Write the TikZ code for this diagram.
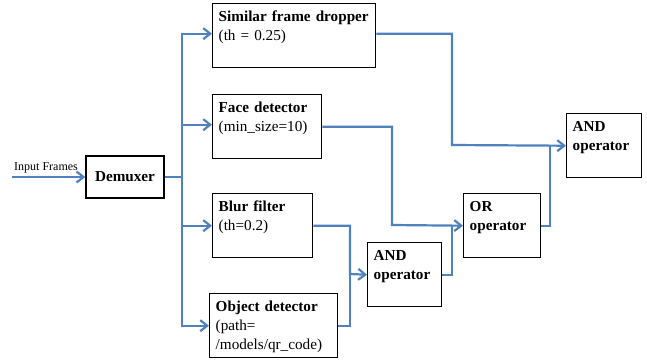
\documentclass[tikz,border=0pt]{standalone}
\usepackage{fontspec}
\setmainfont{Liberation Serif}
\usetikzlibrary{arrows.meta,positioning}
\definecolor{edgeblue}{RGB}{79,129,189}

\begin{document}
\begin{tikzpicture}[x=1pt,y=-1pt]
  \tikzstyle{BlockStyle}=[draw,line width=1.4pt,anchor=north west,align=left,inner xsep=6pt,inner ysep=4pt,text height=13.5pt,text depth=42.5pt,font=\fontsize{15.2}{19}\selectfont]
  \tikzstyle{EdgeStyle}=[draw=edgeblue,line width=2.2pt]
  \tikzstyle{ArrowStyle}=[EdgeStyle,-{Straight Barb[length=7pt,width=11pt]}]
  \useasboundingbox (0,0) rectangle (647,360);

  \node[draw,line width=1.4pt,minimum width=78pt,minimum height=42pt,inner sep=0pt,font=\bfseries\fontsize{15.2}{18}\selectfont] (demux) at (125,177) {Demuxer};
  \node[inner sep=0pt,font=\fontsize{12}{14}\selectfont] (inlbl) at (46,168) {Input Frames};

  \node[BlockStyle,text width=151pt] (sfd) at (212,3) {\textbf{\mbox{Similar frame dropper}}\\(th = 0.25)};
  \node[BlockStyle,text width=97pt] (face) at (212,94) {\textbf{Face detector}\\(min\_size=10)};
  \node[BlockStyle,text width=88pt] (blur) at (212,193) {\textbf{Blur filter}\\(th=0.2)};
  \node[BlockStyle,text width=116pt] (obj) at (209,293) {\textbf{Object detector}\\(path=\\/models/qr\_code)};

  \node[BlockStyle,text width=62pt] (andlow) at (367,242) {\textbf{AND}\\\textbf{operator}};
  \node[BlockStyle,text width=65pt] (or) at (463,193) {\textbf{OR}\\\textbf{operator}};
  \node[BlockStyle,text width=63pt] (andtop) at (566,113) {\textbf{AND}\\\textbf{operator}};

  \coordinate (src) at (12,177);
  \coordinate (bus) at (182,177);
  \coordinate (j1) at (452,145);
  \coordinate (j2) at (392,225);
  \coordinate (j3) at (350,274);
  \coordinate (j4) at (452,225);
  \coordinate (j5) at (550,145);

  \draw[ArrowStyle] (src) -- (demux.west);
  \draw[EdgeStyle] (demux.east) -- (bus);
  \draw[ArrowStyle] (bus) |- ([yshift=2pt]sfd.west);
  \draw[ArrowStyle] (bus) |- ([yshift=2pt]face.west);
  \draw[ArrowStyle] (bus) |- (blur.west);
  \draw[ArrowStyle] (bus) |- (obj.west);

  \draw[ArrowStyle] ([yshift=2pt]sfd.east) -| (j1) -- (andtop.west);
  \draw[ArrowStyle] (face.east) -| (j2) -- (or.west);
  \draw[ArrowStyle] (blur.east) -| (j3) -- (andlow.west);
  \draw[EdgeStyle] (obj.east) -| (j3);
  \draw[EdgeStyle] (andlow.east) -| (j4);
  \draw[EdgeStyle] (or.east) -| (j5);
\end{tikzpicture}
\end{document}
